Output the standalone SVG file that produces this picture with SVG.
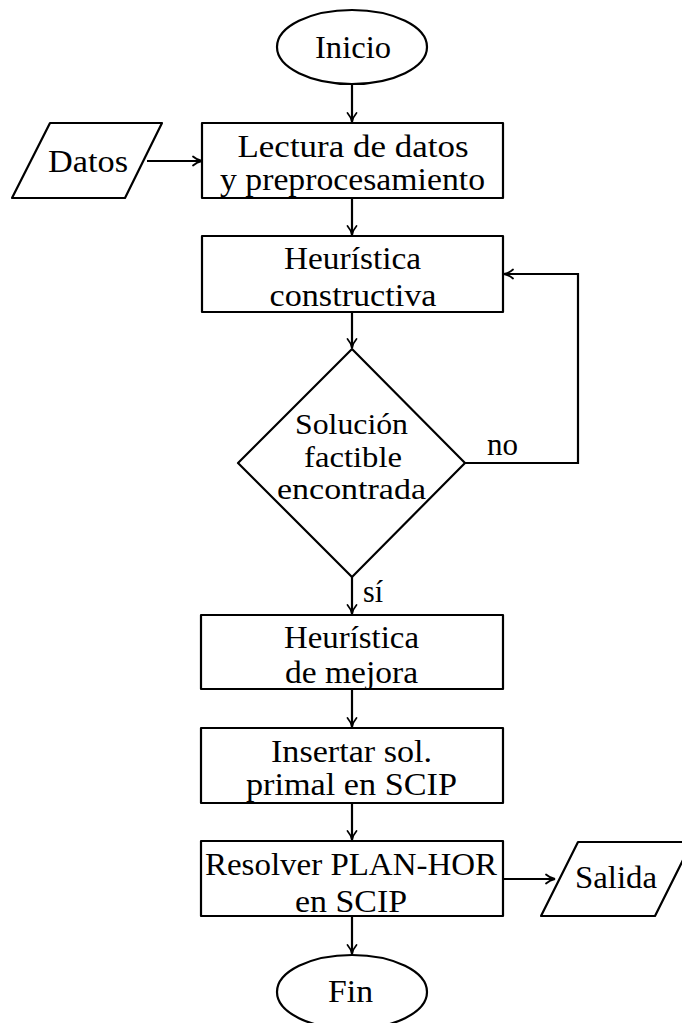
<svg xmlns="http://www.w3.org/2000/svg" width="682" height="1023" viewBox="0 0 682 1023">
<style>
.s{fill:#fff;stroke:#000;stroke-width:2.2;stroke-linejoin:round}
.c{fill:none;stroke:#000;stroke-width:2.2}
.t{font-family:"Liberation Serif","Times New Roman",serif;font-size:32px;fill:#000;text-anchor:middle}
.d{font-size:29px}
</style>
<defs>
<marker id="a" viewBox="0 0 12 12" markerWidth="12" markerHeight="12" refX="11" refY="6" orient="auto" markerUnits="userSpaceOnUse">
<path d="M2,1.5 Q6,5 11,6 Q6,7 2,10.5" fill="none" stroke="#000" stroke-width="1.8" stroke-linecap="round"/>
</marker>
</defs>
<rect width="682" height="1023" fill="#fff"/>
<g id="connectors">
<path class="c" d="M352,84 V122" marker-end="url(#a)"/>
<path class="c" d="M147,161 H202" marker-end="url(#a)"/>
<path class="c" d="M352,198 V235" marker-end="url(#a)"/>
<path class="c" d="M352,312 V348" marker-end="url(#a)"/>
<path class="c" d="M465,463 H578 V274 H504" marker-end="url(#a)"/>
<path class="c" d="M352,577 V614" marker-end="url(#a)"/>
<path class="c" d="M352,689 V727" marker-end="url(#a)"/>
<path class="c" d="M352,803 V840" marker-end="url(#a)"/>
<path class="c" d="M503,879 H555" marker-end="url(#a)"/>
<path class="c" d="M352,916 V954" marker-end="url(#a)"/>
<text class="t" x="502.5" y="455" textLength="31" lengthAdjust="spacingAndGlyphs">no</text>
<text class="t" x="373" y="602" textLength="20" lengthAdjust="spacingAndGlyphs">sí</text>
</g>
<g id="inicio">
<ellipse class="s" cx="352" cy="47" rx="75" ry="37"/>
<text class="t" x="353" y="58" textLength="76" lengthAdjust="spacingAndGlyphs">Inicio</text>
</g>
<g id="datos">
<polygon class="s" points="50,123 162,123 125,198 12,198"/>
<text class="t" x="88" y="172" textLength="80" lengthAdjust="spacingAndGlyphs">Datos</text>
</g>
<g id="lectura">
<rect class="s" x="202" y="123" width="301" height="75"/>
<text class="t" x="353" y="157" textLength="231" lengthAdjust="spacingAndGlyphs">Lectura de datos</text>
<text class="t" x="352.5" y="190" textLength="265" lengthAdjust="spacingAndGlyphs">y preprocesamiento</text>
</g>
<g id="constructiva">
<rect class="s" x="202" y="236" width="301" height="76"/>
<text class="t" x="352.5" y="269" textLength="137" lengthAdjust="spacingAndGlyphs">Heurística</text>
<text class="t" x="353" y="306" textLength="167" lengthAdjust="spacingAndGlyphs">constructiva</text>
</g>
<g id="decision">
<polygon class="s" points="352,349 465,463 352,577 238,463"/>
<text class="t d" x="351.5" y="434" textLength="113" lengthAdjust="spacingAndGlyphs">Solución</text>
<text class="t d" x="353" y="466.5" textLength="98" lengthAdjust="spacingAndGlyphs">factible</text>
<text class="t d" x="351.5" y="499" textLength="149" lengthAdjust="spacingAndGlyphs">encontrada</text>
</g>
<g id="mejora">
<rect class="s" x="201" y="615" width="302" height="74"/>
<text class="t" x="351.5" y="648" textLength="135" lengthAdjust="spacingAndGlyphs">Heurística</text>
<text class="t" x="351.5" y="683" textLength="133" lengthAdjust="spacingAndGlyphs">de mejora</text>
</g>
<g id="insertar">
<rect class="s" x="201" y="728" width="302" height="75"/>
<text class="t" x="351.5" y="762" textLength="161" lengthAdjust="spacingAndGlyphs">Insertar sol.</text>
<text class="t" x="351.5" y="795" textLength="211" lengthAdjust="spacingAndGlyphs">primal en SCIP</text>
</g>
<g id="resolver">
<rect class="s" x="201" y="841" width="302" height="75"/>
<text class="t" x="351" y="875" textLength="292" lengthAdjust="spacingAndGlyphs">Resolver PLAN-HOR</text>
<text class="t" x="351" y="912" textLength="112" lengthAdjust="spacingAndGlyphs">en SCIP</text>
</g>
<g id="salida">
<polygon class="s" points="578,842 692,842 655,916 541,916"/>
<text class="t" x="616" y="888" textLength="82" lengthAdjust="spacingAndGlyphs">Salida</text>
</g>
<g id="fin">
<ellipse class="s" cx="352" cy="992" rx="75" ry="37"/>
<text class="t" x="350.5" y="1002" textLength="45" lengthAdjust="spacingAndGlyphs">Fin</text>
</g>
</svg>
